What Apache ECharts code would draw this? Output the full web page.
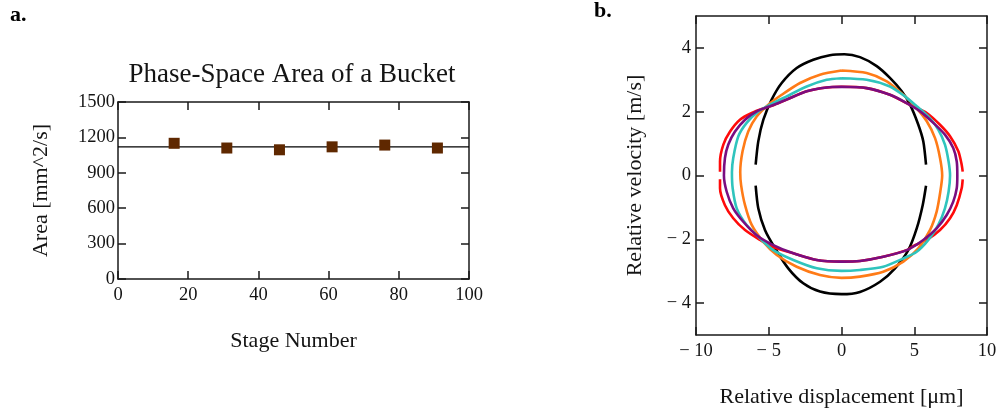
<!DOCTYPE html>
<html>
<head>
<meta charset="utf-8">
<script src="https://cdn.jsdelivr.net/npm/echarts@6/dist/echarts.min.js"></script>
<style>html,body{margin:0;padding:0;background:#fff}#c{width:1005px;height:413px}</style>
</head>
<body>
<div id="c"></div>
<script>
// ---- Panel a data ----
const stages = [16, 31, 46, 61, 76, 91];
const areas = [1150, 1110, 1095, 1120, 1135, 1110];
const meanArea = 1120;
const stageRange = [0, 100];
const areaTicks = [0, 300, 600, 900, 1200, 1500];

// ---- Panel b data (relative displacement [um], relative velocity [m/s]) ----
const velocityTicks = [-4, -2, 0, 2, 4];
const blackUpper = [[-5.90,0.34],[-5.72,1.07],[-5.37,1.75],[-4.80,2.38],[-4.11,2.90],[-3.08,3.37],[-1.94,3.63],[-0.8,3.77],[0.2,3.80],[1.27,3.71],[2.42,3.43],[3.33,3.06],[4.14,2.64],[4.71,2.22],[5.28,1.59],[5.62,1.07],[5.81,0.34]];
const blackLower = [[-5.90,-0.32],[-5.72,-1.03],[-5.26,-1.71],[-4.57,-2.28],[-3.66,-2.91],[-2.63,-3.38],[-1.48,-3.64],[0,-3.72],[1.27,-3.65],[2.65,-3.33],[3.68,-2.91],[4.59,-2.34],[5.17,-1.66],[5.58,-0.93],[5.81,-0.32]];
const redUpper = [[-8.35,0.12],[-8.35,0.44],[-8.12,0.97],[-7.66,1.38],[-6.98,1.75],[-6.17,1.96],[-5.26,2.12],[-4.6,2.22],[-3.77,2.38],[-2.39,2.64],[-1.02,2.76],[0,2.78],[1.73,2.74],[3.33,2.53],[4.5,2.26],[5.0,2.15],[5.86,1.96],[6.77,1.59],[7.46,1.23],[8.03,0.76],[8.26,0.34],[8.33,0.12]];
const redLower = [[-8.35,-0.12],[-8.35,-0.40],[-8.01,-0.93],[-7.44,-1.34],[-6.63,-1.71],[-5.60,-2.02],[-4.80,-2.23],[-3.31,-2.44],[-1.70,-2.65],[0,-2.70],[1.27,-2.68],[2.87,-2.55],[4.48,-2.34],[4.9,-2.22],[5.86,-2.02],[6.77,-1.71],[7.46,-1.34],[7.92,-0.93],[8.26,-0.40],[8.33,-0.12]];
const orangeCurve = [[0,3.29],[1.73,3.21],[3.11,2.95],[4.25,2.53],[5.05,2.17],[5.86,1.70],[6.43,1.17],[6.77,0.55],[6.92,0],[6.79,-0.51],[6.54,-1.13],[6.08,-1.71],[5.28,-2.28],[4.25,-2.70],[2.87,-3.02],[1.27,-3.17],[0,-3.21],[-1.48,-3.12],[-3.08,-2.86],[-4.45,-2.49],[-5.37,-2.08],[-6.17,-1.55],[-6.63,-0.93],[-6.90,-0.30],[-6.96,0.1],[-6.80,0.76],[-6.41,1.38],[-5.83,1.85],[-5.03,2.22],[-4.11,2.53],[-2.85,2.90],[-1.48,3.16],[0,3.29]];
const cyanCurve = [[0,3.05],[1.73,3.00],[3.33,2.79],[4.36,2.48],[5.17,2.17],[5.97,1.85],[6.65,1.44],[7.11,0.97],[7.36,0.44],[7.46,0],[7.36,-0.51],[7.11,-1.03],[6.65,-1.55],[5.97,-2.02],[5.17,-2.39],[4.25,-2.60],[2.87,-2.86],[1.27,-2.96],[0,-2.99],[-1.70,-2.91],[-3.31,-2.65],[-4.69,-2.34],[-5.60,-1.97],[-6.52,-1.55],[-7.20,-1.03],[-7.48,-0.40],[-7.53,0.1],[-7.44,0.55],[-7.09,1.23],[-6.52,1.65],[-5.72,2.01],[-4.91,2.22],[-3.77,2.48],[-2.39,2.79],[-1.02,3.00],[0,3.05]];
const purpleCurve = [[0,2.78],[1.73,2.74],[3.33,2.53],[4.48,2.27],[5.40,2.01],[6.31,1.65],[7.11,1.28],[7.68,0.86],[7.92,0.44],[7.96,0],[7.92,-0.40],[7.68,-0.82],[7.23,-1.24],[6.54,-1.66],[5.62,-2.02],[4.48,-2.34],[2.87,-2.55],[1.27,-2.68],[0,-2.70],[-1.70,-2.65],[-3.31,-2.44],[-4.69,-2.18],[-5.83,-1.87],[-6.75,-1.45],[-7.44,-1.03],[-7.89,-0.51],[-8.08,0],[-8.01,0.55],[-7.78,0.97],[-7.32,1.38],[-6.63,1.75],[-5.83,2.01],[-4.91,2.17],[-3.77,2.38],[-2.39,2.64],[-1.02,2.76],[0,2.78]];

const serif = '"Liberation Serif","DejaVu Serif",serif';
const txt = '#141414';
const frame = {show: true, onZero: false, lineStyle: {color: '#1a1a1a', width: 1.5}};
const inTick = {show: true, inside: true, length: 8, lineStyle: {color: '#1a1a1a', width: 1.5}};
const lab = {color: txt, fontFamily: serif, fontSize: 18.5};
const nameStyle = {color: txt, fontFamily: serif, fontSize: 22};
const neg = v => v < 0 ? '\u2212 ' + Math.abs(v) : String(v);

const chart = echarts.init(document.getElementById('c'), null, {renderer: 'canvas'});
const line = (data, color, z) => ({
  type: 'line', xAxisIndex: 2, yAxisIndex: 2, data: data, showSymbol: false, symbol: 'none',
  smooth: 0.25, connectNulls: false, z: z, animation: false,
  lineStyle: {color: color, width: 2.6}
});

chart.setOption({
  animation: false,
  grid: [
    {left: 118, top: 102, width: 351, height: 177},
    {left: 696, top: 16, width: 291, height: 319}
  ],
  xAxis: [
    {gridIndex: 0, type: 'value', min: stageRange[0], max: stageRange[1], interval: 20,
     axisLine: frame, axisTick: inTick, splitLine: {show: false},
     axisLabel: Object.assign({margin: 7, formatter: v => String(v)}, lab),
     name: 'Stage Number', nameLocation: 'middle', nameGap: 51, nameTextStyle: nameStyle},
    {gridIndex: 0, type: 'value', position: 'top', min: stageRange[0], max: stageRange[1], interval: 20,
     axisLine: frame, axisTick: inTick, axisLabel: {show: false}, splitLine: {show: false}},
    {gridIndex: 1, type: 'value', min: -10, max: 10, interval: 5,
     axisLine: frame, axisTick: inTick, splitLine: {show: false},
     axisLabel: Object.assign({margin: 7, formatter: neg}, lab),
     name: 'Relative displacement [\u03bcm]', nameLocation: 'middle', nameGap: 51, nameTextStyle: nameStyle},
    {gridIndex: 1, type: 'value', position: 'top', min: -10, max: 10, interval: 5,
     axisLine: frame, axisTick: inTick, axisLabel: {show: false}, splitLine: {show: false}}
  ],
  yAxis: [
    {gridIndex: 0, type: 'value', min: areaTicks[0], max: areaTicks[areaTicks.length - 1], interval: 300,
     axisLine: frame, axisTick: inTick, splitLine: {show: false},
     axisLabel: Object.assign({margin: 3, formatter: v => String(v)}, lab),
     name: 'Area [mm^2/s]', nameLocation: 'middle', nameGap: 66, nameTextStyle: nameStyle},
    {gridIndex: 0, type: 'value', position: 'right', min: areaTicks[0], max: areaTicks[areaTicks.length - 1], interval: 300,
     axisLine: frame, axisTick: inTick, axisLabel: {show: false}, splitLine: {show: false}},
    {gridIndex: 1, type: 'value', min: -5, max: 5,
     axisLine: frame,
     axisTick: Object.assign({customValues: velocityTicks}, inTick),
     splitLine: {show: false},
     axisLabel: Object.assign({margin: 5, customValues: velocityTicks, formatter: neg}, lab),
     name: 'Relative velocity [m/s]', nameLocation: 'middle', nameGap: 50, nameTextStyle: nameStyle},
    {gridIndex: 1, type: 'value', position: 'right', min: -5, max: 5,
     axisLine: frame,
     axisTick: Object.assign({customValues: velocityTicks}, inTick),
     axisLabel: {show: false, customValues: velocityTicks}, splitLine: {show: false}}
  ],
  graphic: [
    {type: 'text', left: 10, top: 4, style: {text: 'a.', font: 'bold 22px ' + serif, fill: '#000'}},
    {type: 'text', left: 594, top: 0, style: {text: 'b.', font: 'bold 22px ' + serif, fill: '#000'}},
    {type: 'text', x: 292, y: 75, style: {text: 'Phase-Space Area of a Bucket', font: '27px ' + serif, fill: txt, textAlign: 'center', textVerticalAlign: 'middle'}}
  ],
  series: [
    {type: 'line', xAxisIndex: 0, yAxisIndex: 0, symbol: 'none',
     data: stageRange.map(s => [s, meanArea]), lineStyle: {color: '#000', width: 1.3}, z: 2},
    {type: 'scatter', xAxisIndex: 0, yAxisIndex: 0, symbol: 'rect', symbolSize: 11,
     data: stages.map((s, i) => [s, areas[i]]), itemStyle: {color: '#5f2800', opacity: 1}, z: 3},
    line(blackUpper, '#000000', 2),
    line(blackLower, '#000000', 2),
    line(redUpper, '#ff0a0a', 3),
    line(redLower, '#ff0a0a', 3),
    line(orangeCurve, '#ff7b17', 4),
    line(cyanCurve, '#2fc4bd', 5),
    line(purpleCurve, '#7a0d80', 6)
  ]
});
</script>
</body>
</html>
